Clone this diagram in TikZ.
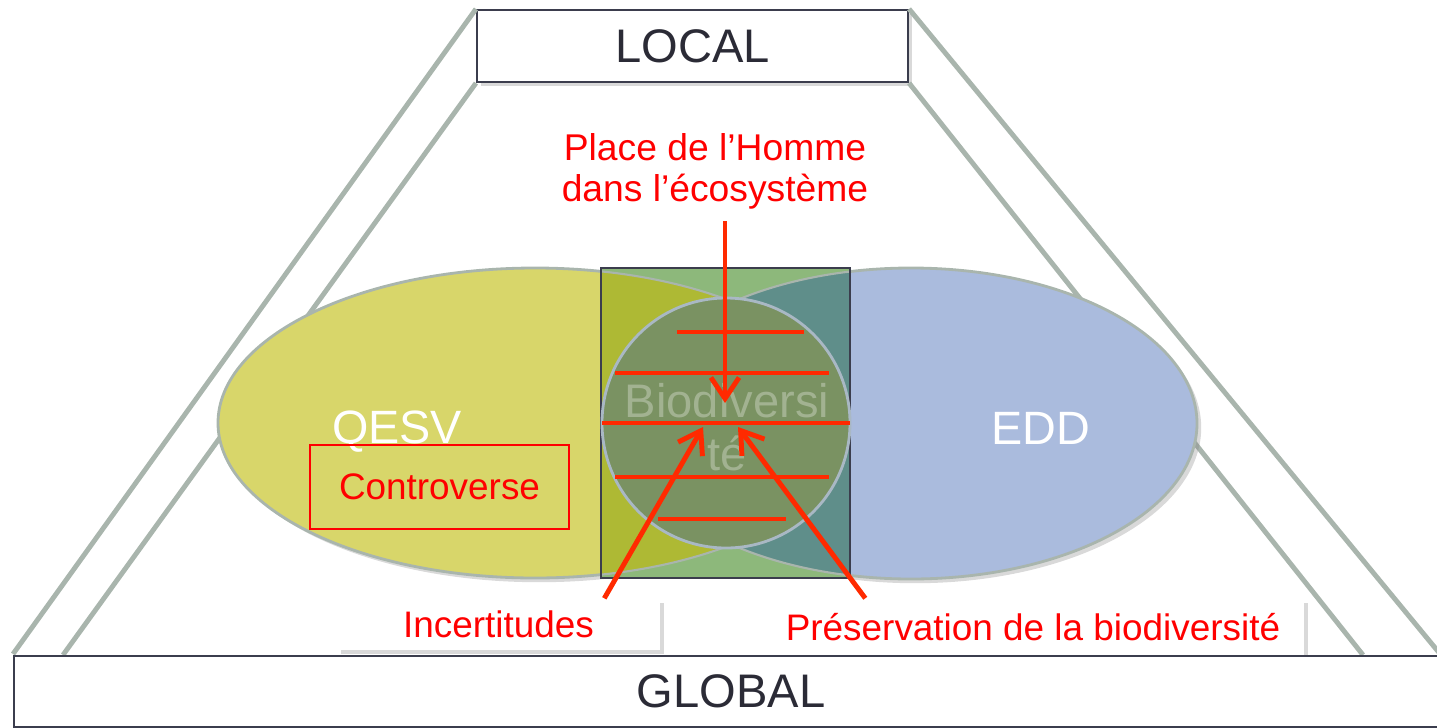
\documentclass[tikz,border=0pt]{standalone}
\usepackage{fontspec}
\setmainfont{Liberation Sans}
\usetikzlibrary{arrows.meta,shadows}
\definecolor{trapgrey}{HTML}{A9B5AD}
\definecolor{boxline}{HTML}{3B3D4D}
\definecolor{darktext}{HTML}{2B2B36}
\definecolor{qesvyellow}{HTML}{D8D66A}
\definecolor{eddblue}{HTML}{AABBDD}
\definecolor{rectgreen}{HTML}{8DB87B}
\definecolor{rectolive}{HTML}{AEB934}
\definecolor{rectteal}{HTML}{5F8E8A}
\definecolor{biogreen}{HTML}{7A9262}
\definecolor{bioline}{HTML}{A9B8C4}
\definecolor{barred}{HTML}{FF2A00}
\tikzset{
  trap/.style={draw=trapgrey,line width=1.4pt},
  softshadow/.style={drop shadow={shadow xshift=1.2pt,shadow yshift=-1.2pt,opacity=0.3}},
  levelbox/.style={draw=boxline,line width=0.6pt,fill=white,softshadow,text=darktext,font=\fontsize{13.4}{16}\selectfont},
  labelbox/.style={fill=white,softshadow,inner sep=1pt,text=red,font=\fontsize{10.5}{12}\selectfont},
  bigwhite/.style={text=white,anchor=base,font=\fontsize{13.3}{16}\selectfont},
  bar/.style={draw=barred,line width=1.4pt},
  redarrow/.style={draw=barred,line width=1.4pt,-{Straight Barb[length=6pt,width=8pt]}}
}
\begin{document}
\begin{tikzpicture}
\useasboundingbox (0,0) rectangle (14.37,-7.27);
\clip (0,0) rectangle (14.37,-7.27);
% niveau local et trapeze
\node[levelbox,minimum width=4.31cm,minimum height=0.72cm] (local) at (6.925,-0.46){LOCAL};
\coordinate (gl1) at (0.13,-6.54);\coordinate (gl2) at (0.63,-6.55);
\coordinate (gr1) at (14.41,-6.55);\coordinate (gr2) at (13.63,-6.55);
\draw[trap] (local.north west)--(gl1);\draw[trap] (local.south west)--(gl2);
\draw[trap] (local.north east)--(gr1);\draw[trap] (local.south east)--(gr2);
% ellipses QESV et EDD
\filldraw[fill=qesvyellow,draw=trapgrey,line width=0.8pt,softshadow] (5.35,-4.23) ellipse [x radius=3.17cm,y radius=1.55cm];
\filldraw[fill=eddblue,draw=trapgrey,line width=0.8pt,softshadow] (9.11,-4.235) ellipse [x radius=2.86cm,y radius=1.555cm];
% rectangle central
\fill[rectgreen] (6.01,-2.68) rectangle (8.50,-5.78);
\begin{scope}
\clip (6.01,-2.68) rectangle (8.50,-5.78);
\filldraw[fill=rectolive,draw=trapgrey,line width=0.6pt] (5.35,-4.23) ellipse [x radius=3.17cm,y radius=1.55cm];
\filldraw[fill=rectteal,draw=trapgrey,line width=0.6pt] (9.11,-4.235) ellipse [x radius=2.86cm,y radius=1.555cm];
\end{scope}
\draw[boxline,line width=0.8pt] (6.01,-2.68) rectangle (8.50,-5.78);
% biodiversite
\filldraw[fill=biogreen,draw=bioline,line width=0.8pt] (7.26,-4.23) ellipse [x radius=1.24cm,y radius=1.25cm];
\node[text=white,text opacity=0.3,align=center,font=\fontsize{13.4}{15.1}\selectfont] (bio) at (7.27,-4.27){Biodiversi\\té};
\foreach \y/\a/\b in {3.32/6.77/8.04,3.73/6.15/8.29,4.23/6.02/8.50,4.77/6.15/8.29,5.19/6.58/7.86}
  \draw[bar] (\a,-\y)--(\b,-\y);
% textes
\node[bigwhite] (qesv) at (3.97,-4.43){QESV};
\node[bigwhite] (edd) at (10.41,-4.44){EDD};
\node[draw=red,line width=0.6pt,minimum width=2.59cm,minimum height=0.84cm,text=red,font=\fontsize{10.5}{12}\selectfont] (contro) at (4.395,-4.87){Controverse};
\node[text=red,align=center,font=\fontsize{10.6}{11.7}\selectfont] (place) at (7.15,-1.71){Place de l’Homme\\dans l’écosystème};
\node[labelbox,minimum width=3.23cm,minimum height=0.51cm] (incert) at (4.985,-6.245){Incertitudes};
\node[labelbox,minimum width=5.42cm,minimum height=0.57cm] (preserv) at (10.33,-6.275){Préservation de la biodiversité};
% fleches
\coordinate (t1) at (7.25,-4.03);\coordinate (t2) at (7.03,-4.27);\coordinate (t3) at (7.38,-4.27);
\draw[redarrow] (t1|-place.south)--(t1);
\draw[redarrow] ([xshift=2.68cm]incert.north west)--(t2);
\draw[redarrow] ([xshift=1.04cm]preserv.north west)--(t3);
% niveau global
\node[levelbox,anchor=north west,minimum width=14.34cm,minimum height=0.71cm] (global) at (0.13,-6.55){GLOBAL};
\end{tikzpicture}
\end{document}
